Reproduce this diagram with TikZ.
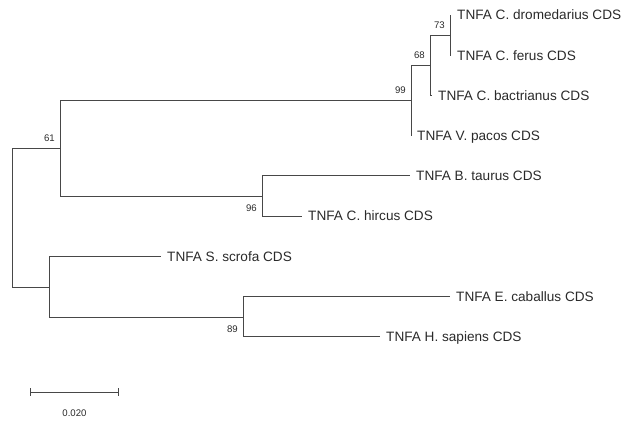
\documentclass[tikz,border=0pt]{standalone}
\usepackage{fontspec}
\setmainfont{Liberation Sans}
\usepackage{tikz}
\usetikzlibrary{calc}
\usepackage[dvipsnames,svgnames]{xcolor}

\definecolor{garis}{HTML}{474747}
\definecolor{teks}{HTML}{2A2A2A}

\begin{document}
\begin{tikzpicture}[x=1pt,y=-1pt,
    cabang/.style={draw=garis,line width=1pt},
    daun/.style={anchor=west,inner xsep=6pt,inner ysep=0pt,text height=9.6pt,text depth=0pt,text=teks,font=\fontsize{13.6}{15}\selectfont},
    boot/.style={inner sep=0pt,text height=6.8pt,text depth=0pt,text=teks,font=\fontsize{9.6}{10}\selectfont},
    bootatas/.style={boot,anchor=south east,xshift=-5pt,yshift=6.3pt},
    bootbawah/.style={boot,anchor=north east,xshift=-5pt,yshift=-8pt}]

    \useasboundingbox (0,0) rectangle (623,424);

    % Titik cabang dalam pohon
    \coordinate (akar) at (12,217);
    \coordinate (n61) at (60,148);
    \coordinate (n99) at (411,100);
    \coordinate (n68) at (430,65);
    \coordinate (n73) at (450,35);
    \coordinate (n96) at (262,196);
    \coordinate (nbawah) at (49,287);
    \coordinate (n89) at (243,317);

    % Nama spesies pada ujung cabang
    \node[daun] (dromedarius) at (451,15) {TNFA C. dromedarius CDS};
    \node[daun] (ferus) at (451,55.2) {TNFA C. ferus CDS};
    \node[daun] (bactrianus) at (432,95.4) {TNFA C. bactrianus CDS};
    \node[daun] (pacos) at (411,135.6) {TNFA V. pacos CDS};
    \node[daun] (taurus) at (410,175.8) {TNFA B. taurus CDS};
    \node[daun] (hircus) at (302,216) {TNFA C. hircus CDS};
    \node[daun] (scrofa) at (161,256.2) {TNFA S. scrofa CDS};
    \node[daun] (caballus) at (450,296.4) {TNFA E. caballus CDS};
    \node[daun] (sapiens) at (380,336.6) {TNFA H. sapiens CDS};

    % Garis cabang
    \draw[cabang] (akar) |- (n61);
    \draw[cabang] (akar) |- (nbawah);
    \draw[cabang] (n61) |- (n99);
    \draw[cabang] (n61) |- (n96);
    \draw[cabang] (n99) |- (n68);
    \draw[cabang] (n99) |- (pacos.west);
    \draw[cabang] (n68) |- (n73);
    \draw[cabang] (n68) |- (bactrianus.west);
    \draw[cabang] (n73) |- (dromedarius.west);
    \draw[cabang] (n73) |- (ferus.west);
    \draw[cabang] (n96) |- (taurus.west);
    \draw[cabang] (n96) |- (hircus.west);
    \draw[cabang] (nbawah) |- (scrofa.west);
    \draw[cabang] (nbawah) |- (n89);
    \draw[cabang] (n89) |- (caballus.west);
    \draw[cabang] (n89) |- (sapiens.west);

    % Nilai bootstrap
    \node[bootatas] (b61) at (n61) {61};
    \node[bootatas] (b99) at (n99) {99};
    \node[bootatas] (b68) at (n68) {68};
    \node[bootatas] (b73) at (n73) {73};
    \node[bootbawah] (b96) at (n96) {96};
    \node[bootbawah] (b89) at (n89) {89};

    % Skala jarak
    \coordinate (skalakiri) at (30,392);
    \coordinate (skalakanan) at (119,392);
    \draw[cabang,|-|] (skalakiri) -- (skalakanan);
    \node[boot] (skalateks) at ($(skalakiri)!0.5!(skalakanan)+(0,21)$) {0.020};

\end{tikzpicture}
\end{document}
